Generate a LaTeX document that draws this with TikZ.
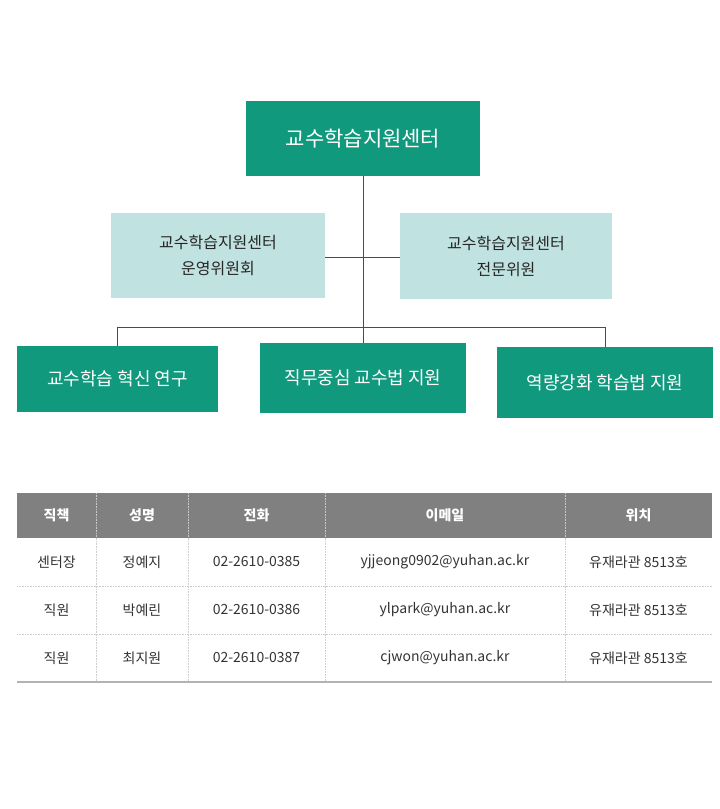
\documentclass[tikz,border=0pt]{standalone}
\usepackage{fontspec}
\setmainfont{Noto Sans CJK KR}
\definecolor{teal1}{HTML}{11997E}
\definecolor{light1}{HTML}{C0E2E1}
\definecolor{hdr}{HTML}{808080}
\definecolor{sep}{HTML}{CCCCCC}
\begin{document}
\begin{tikzpicture}[x=1pt,y=-1pt,
 tbox/.style={fill=teal1,text=white,font=\fontsize{18}{22}\selectfont},
 lbox/.style={fill=light1,text=black!85,font=\fontsize{16}{26}\selectfont,align=center},
 conn/.style={draw=black!70,line width=0.8pt},
 cell/.style={font=\fontsize{14}{16}\selectfont,text=black!80},
 hcell/.style={font=\fontsize{14}{16}\selectfont\bfseries,text=white}]
\useasboundingbox (0,0) rectangle (720,809);
\fill[teal1] (246,101) rectangle (480,176);
\node[text=white,font=\fontsize{21}{24}\selectfont] (top) at (363,138.5) {교수학습지원센터};
\coordinate (topb) at (363,176);
\fill[light1] (111,213) rectangle (325,298);
\node[lbox] (l1) at (218,255.5) {교수학습지원센터\\운영위원회};
\fill[light1] (400,213) rectangle (612,299);
\node[lbox] (l2) at (506,256) {교수학습지원센터\\전문위원};
\coordinate (l1r) at (325,257); \coordinate (l2l) at (400,257);
\fill[teal1] (17,346) rectangle (218,412);
\node[tbox] (b1) at (117.5,379) {교수학습 혁신 연구};
\fill[teal1] (260,343) rectangle (466,413);
\node[tbox] (b2) at (363,378) {직무중심 교수법 지원};
\fill[teal1] (497,347) rectangle (713,418);
\node[tbox] (b3) at (605,382.5) {역량강화 학습법 지원};
\coordinate (j) at (363,327);
\coordinate (jl) at (117,327); \coordinate (jr) at (605,327);
\draw[conn] (topb) -- (363,343);
\draw[conn] (l1r) -- (l2l);
\draw[conn] (117,346) -- (jl) -- (jr) -- (605,347);
% table
\fill[hdr] (17,493) rectangle (712,538);
\foreach \x in {96,188,325,565} {\draw[sep,densely dotted,line width=0.6pt] (\x,493) -- (\x,682);}
\foreach \y in {586,634} {\draw[sep,densely dotted,line width=0.6pt] (17,\y) -- (712,\y);}
\draw[black!30,line width=1.5pt] (17,682) -- (712,682);
\node[hcell] (h1) at (56.5,515.5) {직책};
\node[hcell] (h2) at (142,515.5) {성명};
\node[hcell] (h3) at (256.5,515.5) {전화};
\node[hcell] (h4) at (445,515.5) {이메일};
\node[hcell] (h5) at (638.5,515.5) {위치};
\node[cell] (a1) at (56.5,562) {센터장};
\node[cell] (a2) at (142,562) {정예지};
\node[cell] (a3) at (256.5,562) {02-2610-0385};
\node[cell] (a4) at (445,562) {yjjeong0902@yuhan.ac.kr};
\node[cell] (a5) at (638.5,562) {유재라관 8513호};
\node[cell] (b1c) at (56.5,610) {직원};
\node[cell] (b2c) at (142,610) {박예린};
\node[cell] (b3c) at (256.5,610) {02-2610-0386};
\node[cell] (b4c) at (445,610) {ylpark@yuhan.ac.kr};
\node[cell] (b5c) at (638.5,610) {유재라관 8513호};
\node[cell] (c1) at (56.5,658) {직원};
\node[cell] (c2) at (142,658) {최지원};
\node[cell] (c3) at (256.5,658) {02-2610-0387};
\node[cell] (c4) at (445,658) {cjwon@yuhan.ac.kr};
\node[cell] (c5) at (638.5,658) {유재라관 8513호};
\end{tikzpicture}
\end{document}
